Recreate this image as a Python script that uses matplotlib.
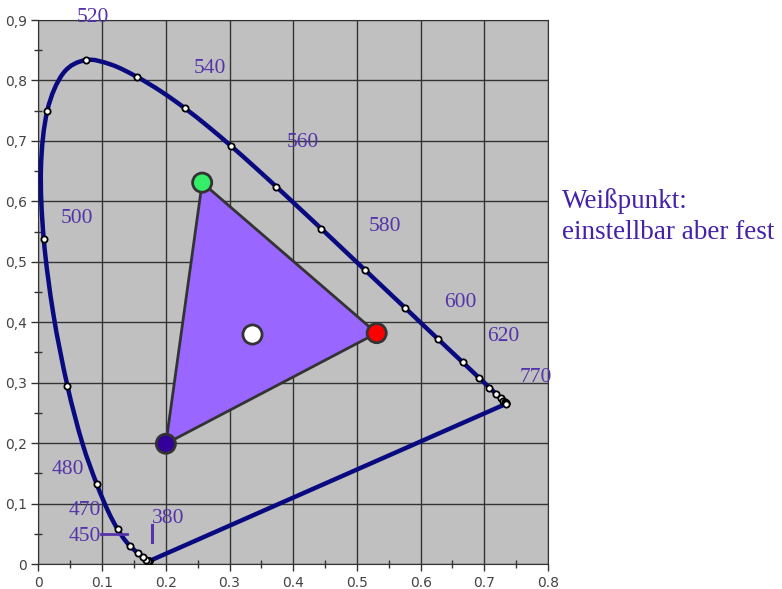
import matplotlib.pyplot as plt
from matplotlib.ticker import MultipleLocator
from matplotlib.path import Path
from matplotlib.patches import PathPatch

# CIE 1931 spectral locus (wavelength nm, x, y)
locus_nm = [380, 385, 390, 395, 400, 405, 410, 415, 420, 425, 430, 435, 440, 445,
            450, 455, 460, 465, 470, 475, 480, 485, 490, 495, 500, 505, 510, 515,
            520, 525, 530, 535, 540, 545, 550, 555, 560, 565, 570, 575, 580, 585,
            590, 595, 600, 605, 610, 615, 620, 625, 630, 635, 640, 645, 650, 655,
            660, 665, 670, 675, 680, 690, 700]
locus_x = [0.1741, 0.1740, 0.1738, 0.1736, 0.1733, 0.1730, 0.1726, 0.1721, 0.1714,
           0.1703, 0.1689, 0.1669, 0.1644, 0.1611, 0.1566, 0.1510, 0.1440, 0.1355,
           0.1241, 0.1096, 0.0913, 0.0687, 0.0454, 0.0235, 0.0082, 0.0039, 0.0139,
           0.0389, 0.0743, 0.1142, 0.1547, 0.1929, 0.2296, 0.2658, 0.3016, 0.3373,
           0.3731, 0.4087, 0.4441, 0.4788, 0.5125, 0.5448, 0.5752, 0.6029, 0.6270,
           0.6482, 0.6658, 0.6801, 0.6915, 0.7006, 0.7079, 0.7140, 0.7190, 0.7230,
           0.7260, 0.7283, 0.7300, 0.7311, 0.7320, 0.7327, 0.7334, 0.7344, 0.7347]
locus_y = [0.0050, 0.0050, 0.0049, 0.0049, 0.0048, 0.0048, 0.0048, 0.0048, 0.0051,
           0.0058, 0.0069, 0.0086, 0.0109, 0.0138, 0.0177, 0.0227, 0.0297, 0.0399,
           0.0578, 0.0868, 0.1327, 0.2007, 0.2950, 0.4127, 0.5384, 0.6548, 0.7502,
           0.8120, 0.8338, 0.8262, 0.8059, 0.7816, 0.7543, 0.7243, 0.6923, 0.6589,
           0.6245, 0.5896, 0.5547, 0.5202, 0.4866, 0.4544, 0.4242, 0.3965, 0.3725,
           0.3514, 0.3340, 0.3197, 0.3083, 0.2993, 0.2920, 0.2859, 0.2809, 0.2770,
           0.2740, 0.2717, 0.2700, 0.2689, 0.2680, 0.2673, 0.2666, 0.2656, 0.2653]

# wavelength labels and their positions
label_text = ['520', '540', '560', '580', '600', '620', '770', '500', '480', '470', '450', '380']
label_x = [0.085, 0.269, 0.415, 0.544, 0.663, 0.729, 0.781, 0.060, 0.046, 0.073, 0.073, 0.204]
label_y = [0.905, 0.820, 0.697, 0.558, 0.432, 0.377, 0.308, 0.571, 0.156, 0.088, 0.046, 0.075]

# primaries (green, red, blue) and white point
prim_x = [0.257, 0.531, 0.200]
prim_y = [0.631, 0.382, 0.199]
prim_colors = ['#33ee66', '#ff0000', '#330099']
white_x, white_y = 0.335, 0.381

txt_col = '#5533aa'

fig = plt.figure(figsize=(7.82, 5.89), dpi=100)
ax = fig.add_axes([0.0492, 0.0424, 0.6516, 0.9236])
ax.set_facecolor('#c0c0c0')

# gamut triangle
ax.fill(prim_x, prim_y, facecolor='#9966ff', edgecolor='#333333', lw=2, zorder=3)

# smoothed locus (Catmull-Rom -> Bezier, like a smoothed spreadsheet line),
# closed by the straight purple line
pts = list(zip(locus_x, locus_y))
verts = [pts[0]]
codes = [Path.MOVETO]
for i in range(len(pts) - 1):
    p0 = pts[max(i - 1, 0)]
    p1 = pts[i]
    p2 = pts[i + 1]
    p3 = pts[min(i + 2, len(pts) - 1)]
    c1 = (p1[0] + (p2[0] - p0[0]) / 6, p1[1] + (p2[1] - p0[1]) / 6)
    c2 = (p2[0] - (p3[0] - p1[0]) / 6, p2[1] - (p3[1] - p1[1]) / 6)
    verts += [c1, c2, p2]
    codes += [Path.CURVE4] * 3
verts.append(pts[0])
codes.append(Path.LINETO)
ax.add_patch(PathPatch(Path(verts, codes), facecolor='none', edgecolor='#0a0a80',
                       lw=3.2, joinstyle='round', zorder=4))

mx = [x for n, x in zip(locus_nm, locus_x) if n % 10 == 0]
my = [y for n, y in zip(locus_nm, locus_y) if n % 10 == 0]
ax.plot(mx, my, 'o', ms=4.5, mfc='white', mec='black', mew=1.3, zorder=5)

ax.scatter(prim_x, prim_y, s=190, c=prim_colors, edgecolors='#333333', linewidths=2, zorder=6)
ax.scatter([white_x], [white_y], s=190, c='white', edgecolors='#333333', linewidths=2, zorder=6)

for t, x, y in zip(label_text, label_x, label_y):
    ax.text(x, y, t, color=txt_col, fontsize=15.5, family='Liberation Serif',
            ha='center', va='center', zorder=7, clip_on=False)

# leader marks for 450 and 380
ax.plot([0.098, 0.139], [0.050, 0.050], color=txt_col, lw=2, zorder=7)
ax.plot([0.178, 0.178], [0.036, 0.064], color=txt_col, lw=2.2, zorder=7)

fig.text(0.719, 0.632, 'Weißpunkt:\neinstellbar aber fest', color='#4422aa',
         fontsize=19.5, family='Liberation Serif', ha='left', va='center', linespacing=1.3)

ax.set_xlim(0, 0.8)
ax.set_ylim(0, 0.9)
ax.xaxis.set_minor_locator(MultipleLocator(0.05))
ax.yaxis.set_minor_locator(MultipleLocator(0.05))
xt = [i / 10 for i in range(9)]
yt = [i / 10 for i in range(10)]
ax.set_xticks(xt, ['0'] + ['%.1f' % v for v in xt[1:]])
ax.set_yticks(yt, ['0'] + [('%.1f' % v).replace('.', ',') for v in yt[1:]])
ax.tick_params(which='major', direction='out', length=5, width=1, color='#333333',
               labelsize=10, labelcolor='#444444')
ax.tick_params(which='minor', direction='inout', length=6, width=1, color='#333333')
ax.grid(True, which='major', color='#333333', lw=1)
ax.set_axisbelow(True)
for s in ax.spines.values():
    s.set_color('#333333')

fig.savefig('out.png', dpi=100)
